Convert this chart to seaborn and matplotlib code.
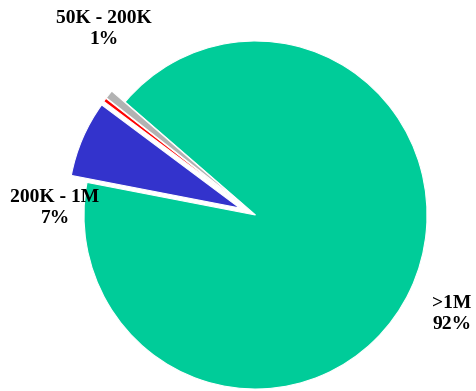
import matplotlib
matplotlib.use("Agg")
import matplotlib.pyplot as plt
import seaborn as sns

# Share of accounts by balance band (percent), clockwise from the top-left edge
categories = [">1M", "200K - 1M", "<50K", "50K - 200K"]
shares = [91.75, 7.1, 0.35, 0.8]
shown_labels = [">1M", "200K - 1M", None, "50K - 200K"]
colors = ["#00CC99", "#3333CC", "#FF0000", "#B2B2B2"]
explode = [0.0, 0.1, 0.1, 0.1]

sns.set_theme(style="white")
plt.rcParams["font.family"] = ["Liberation Serif", "DejaVu Serif"]

W, H = 476, 391
fig = plt.figure(figsize=(W / 100, H / 100), dpi=100)
ax = fig.add_axes([0, 0, 1, 1])

wedges, _ = ax.pie(
    shares,
    colors=colors,
    explode=explode,
    startangle=139.5,
    counterclock=False,
    wedgeprops=dict(edgecolor="white", linewidth=0.8),
)
for w in wedges:
    w.set_clip_on(False)

# pie centre at (255, 215) px from the top-left, radius ~172 px
cx, cy, rx, ry = 255.5, 215.0, 171.5, 174.0
ax.set_xlim(-cx / rx, (W - cx) / rx)
ax.set_ylim(-(H - cy) / ry, cy / ry)
ax.set_aspect("auto")
ax.axis("off")

# label anchor points in pixels (x, y from top)
label_pos = {
    ">1M": (452, 314),
    "200K - 1M": (55, 208),
    "50K - 200K": (104, 29),
}
for name, val in zip(shown_labels, shares):
    if name is None:
        continue
    px, py = label_pos[name]
    fig.text(px / W, 1 - py / H, f"{name}\n{round(val):.0f}%",
             ha="center", va="center", fontsize=14, fontweight="bold",
             color="black", linespacing=1.3)

fig.savefig("out.png", dpi=100, facecolor="white")
